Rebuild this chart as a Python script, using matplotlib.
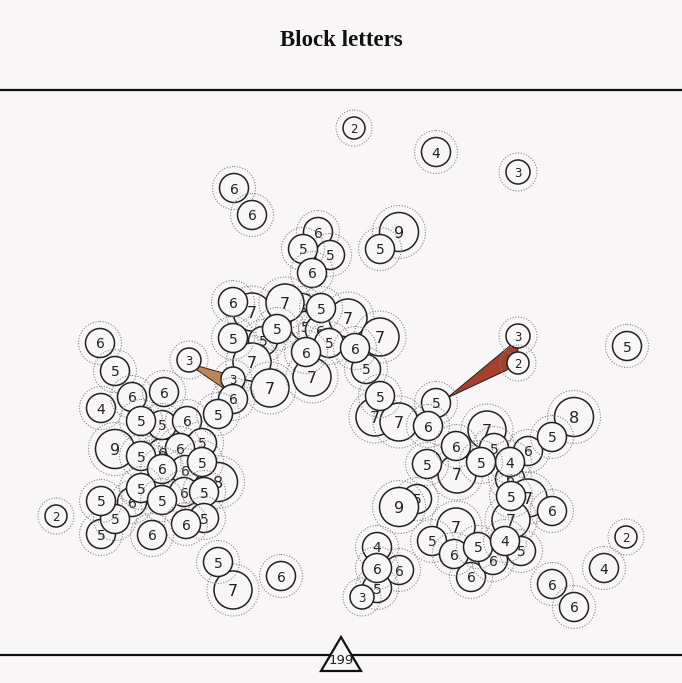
import numpy as np
import matplotlib.pyplot as plt
from matplotlib.patches import Circle, Polygon

# bubble centres (pixels) and numbers, listed in drawing order
xs = [354, 436, 518, 234, 252, 318, 330, 303, 312, 399, 380, 627, 518, 518, 100, 115, 189,
      56, 626, 604, 552, 574, 281, 233, 218,
      132, 162, 218, 115, 101, 115, 101, 101, 132, 164, 162, 141, 187, 202, 180, 185, 202,
      141, 162, 184, 204, 141, 162, 204, 186, 152,
      302, 305, 320, 252, 233, 285, 348, 321, 263, 277, 252, 233, 270, 233, 233, 218, 312,
      329, 306, 380, 366, 355,
      375, 399, 380, 436, 428, 574, 528, 552, 487, 494, 457, 427, 456, 510, 510, 481, 528,
      552, 511, 511, 417, 399, 471, 493, 456, 432, 454, 478, 521, 505, 399, 377, 377, 377, 362]
ys = [128, 152, 172, 188, 215, 232, 255, 249, 273, 232, 249, 346, 336, 363, 343, 371, 360,
      516, 537, 568, 584, 607, 576, 590, 562,
      502, 453, 482, 449, 534, 519, 501, 408, 397, 392, 425, 421, 421, 443, 448, 470, 462,
      456, 469, 492, 492, 488, 500, 518, 524, 535,
      308, 326, 330, 312, 302, 303, 318, 308, 341, 329, 362, 338, 388, 379, 399, 414, 377,
      343, 352, 337, 369, 348,
      417, 422, 396, 403, 426, 417, 451, 437, 430, 448, 474, 464, 446, 479, 462, 462, 498,
      511, 520, 496, 499, 507, 577, 560, 527, 541, 554, 547, 551, 541, 570, 588, 547, 568, 597]
vals = [2, 4, 3, 6, 6, 6, 5, 5, 6, 9, 5, 5, 3, 2, 6, 5, 3,
        2, 2, 4, 6, 6, 6, 7, 5,
        6, 6, 8, 9, 5, 5, 5, 4, 6, 6, 5, 5, 6, 5, 6, 6, 5,
        5, 6, 6, 5, 5, 5, 5, 6, 6,
        6, 5, 6, 7, 6, 7, 7, 5, 5, 5, 7, 5, 7, 3, 6, 5, 7,
        5, 6, 7, 5, 6,
        7, 7, 5, 5, 6, 8, 6, 5, 7, 5, 7, 5, 6, 6, 4, 5, 7,
        6, 7, 5, 5, 9, 6, 6, 7, 5, 6, 5, 5, 4, 6, 5, 4, 6, 3]

# the two wedges
wedge1_x = [198, 223, 226, 197]
wedge1_y = [366, 373, 390, 370]
wedge2_x = [447, 511, 518, 518, 507]
wedge2_y = [398, 345, 347, 352, 370]

page_no = "199"

bg = '#f8f6f6'
radius = {2: 11, 3: 12, 4: 14.5, 5: 14.5, 6: 14.5, 7: 19, 8: 19.5, 9: 19.5}
fsize = {2: 8.5, 3: 8.5, 4: 10, 5: 10, 6: 10, 7: 11.5, 8: 11.5, 9: 11.5}

fig = plt.figure(figsize=(6.82, 6.83), dpi=100, facecolor=bg)
ax = fig.add_axes([0, 0, 1, 1])
ax.set_facecolor(bg)
ax.set_xlim(0, 682)
ax.set_ylim(683, 0)
ax.axis('off')

ax.add_patch(Polygon(list(zip(wedge1_x, wedge1_y)), closed=True, facecolor='#c4834f',
                     edgecolor='#222', lw=0.7, zorder=2))
ax.add_patch(Polygon(list(zip(wedge2_x, wedge2_y)), closed=True, facecolor='#a5402d',
                     edgecolor='#222', lw=0.7, zorder=2))

for i, (x, y, v) in enumerate(zip(xs, ys, vals)):
    r = radius[v]
    z = 5 + 3 * i
    ax.add_patch(Circle((x, y), r + 7, facecolor='none', edgecolor='#888888',
                        lw=0.8, ls=(0, (1, 1.5)), zorder=z))
    ax.add_patch(Circle((x, y), r, facecolor=bg, edgecolor='#222222', lw=1.1, zorder=z + 1))
    ax.text(x, y, str(v), ha='center', va='center_baseline', fontsize=fsize[v],
            color='#222222', zorder=z + 2)

# title and rules
ax.text(341, 41, 'Block letters', ha='center', va='center', fontsize=16.5,
        fontweight='bold', family='Liberation Serif', color='#111')
ax.plot([0, 682], [90, 90], color='#111', lw=1.6, zorder=1000)
ax.plot([0, 682], [655, 655], color='#111', lw=1.6, zorder=1000)
ax.add_patch(Polygon([(321, 671), (361, 671), (341, 637)], closed=True, facecolor=bg,
                     edgecolor='#111', lw=1.6, zorder=1001))
ax.text(341, 660, page_no, ha='center', va='center', fontsize=9.5, color='#222', zorder=1002)

fig.savefig('out.png', dpi=100, facecolor=bg)
